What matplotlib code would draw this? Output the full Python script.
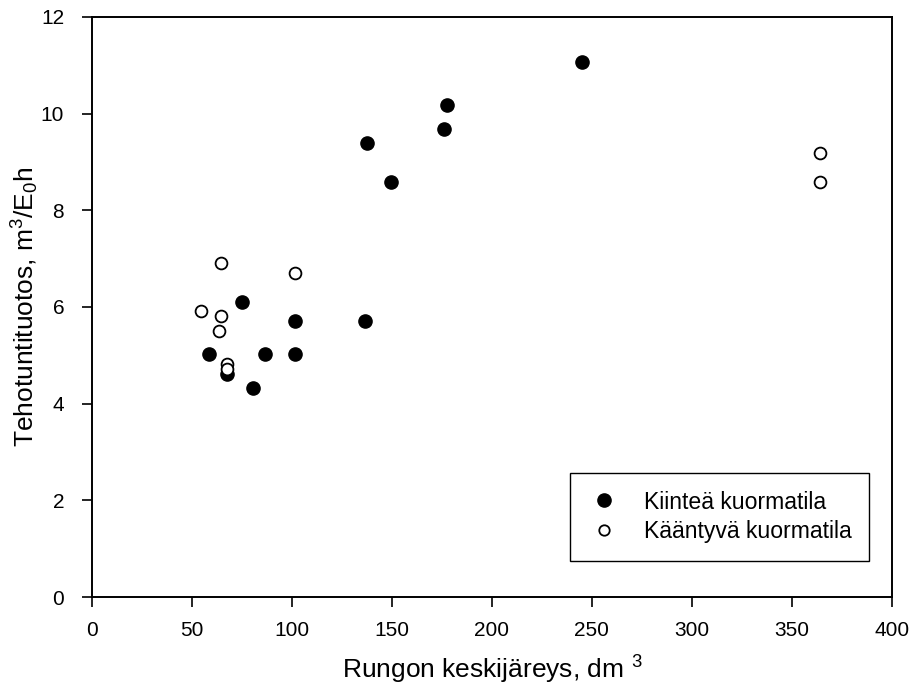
import numpy as np
import matplotlib.pyplot as plt

plt.rcParams['font.family'] = ['Liberation Sans', 'DejaVu Sans']
plt.rcParams['mathtext.default'] = 'regular'

# kiintea kuormatila (filled)
kiintea_x = [58.5, 67.3, 75.2, 80.3, 86.5, 101.5, 101.5, 136.5, 137.7, 149.7, 175.8, 177.7, 245]
kiintea_y = [5.02, 4.62, 6.10, 4.32, 5.02, 5.02, 5.72, 5.72, 9.39, 8.59, 9.68, 10.18, 11.06]

# kaantyva kuormatila (open)
kaantyva_x = [54.3, 63.5, 64.5, 64.5, 67.3, 67.3, 101.5, 364, 364]
kaantyva_y = [5.91, 5.51, 5.81, 6.90, 4.83, 4.72, 6.70, 9.19, 8.59]

fig = plt.figure(figsize=(9.12, 6.93), dpi=100)
ax = fig.add_axes([0.1009, 0.1385, 0.877, 0.837])

ax.plot(kiintea_x, kiintea_y, 'o', color='black', markersize=9.5, linestyle='none',
        label='Kiinteä kuormatila')
ax.plot(kaantyva_x, kaantyva_y, 'o', markerfacecolor='white', markeredgecolor='black',
        markeredgewidth=1.3, markersize=8.5, linestyle='none', label='Kääntyvä kuormatila')

ax.set_xlim(0, 400)
ax.set_ylim(0, 12)
ax.set_xticks(np.arange(0, 401, 50))
ax.set_yticks(np.arange(0, 13, 2))
ax.tick_params(direction='out', length=7, width=1.2, labelsize=15)
ax.tick_params(axis='x', pad=10)
ax.tick_params(axis='y', pad=13)
for s in ax.spines.values():
    s.set_linewidth(1.4)

ax.set_xlabel('Rungon keskijäreys, dm $^3$', fontsize=19, labelpad=10)
ax.set_ylabel('Tehotuntituotos, m$^3$/E$_0$h', fontsize=19, labelpad=0)

leg = ax.legend(loc='lower left', bbox_to_anchor=(0.5975, 0.0626), borderaxespad=0,
                fontsize=16.6, fancybox=False, edgecolor='black', framealpha=1,
                handlelength=1.5, handletextpad=0.95, borderpad=0.75, labelspacing=0.3)
leg.get_frame().set_linewidth(1.0)
leg.legend_handles[1].set_markersize(7.5)

fig.savefig('out.png', dpi=100)
